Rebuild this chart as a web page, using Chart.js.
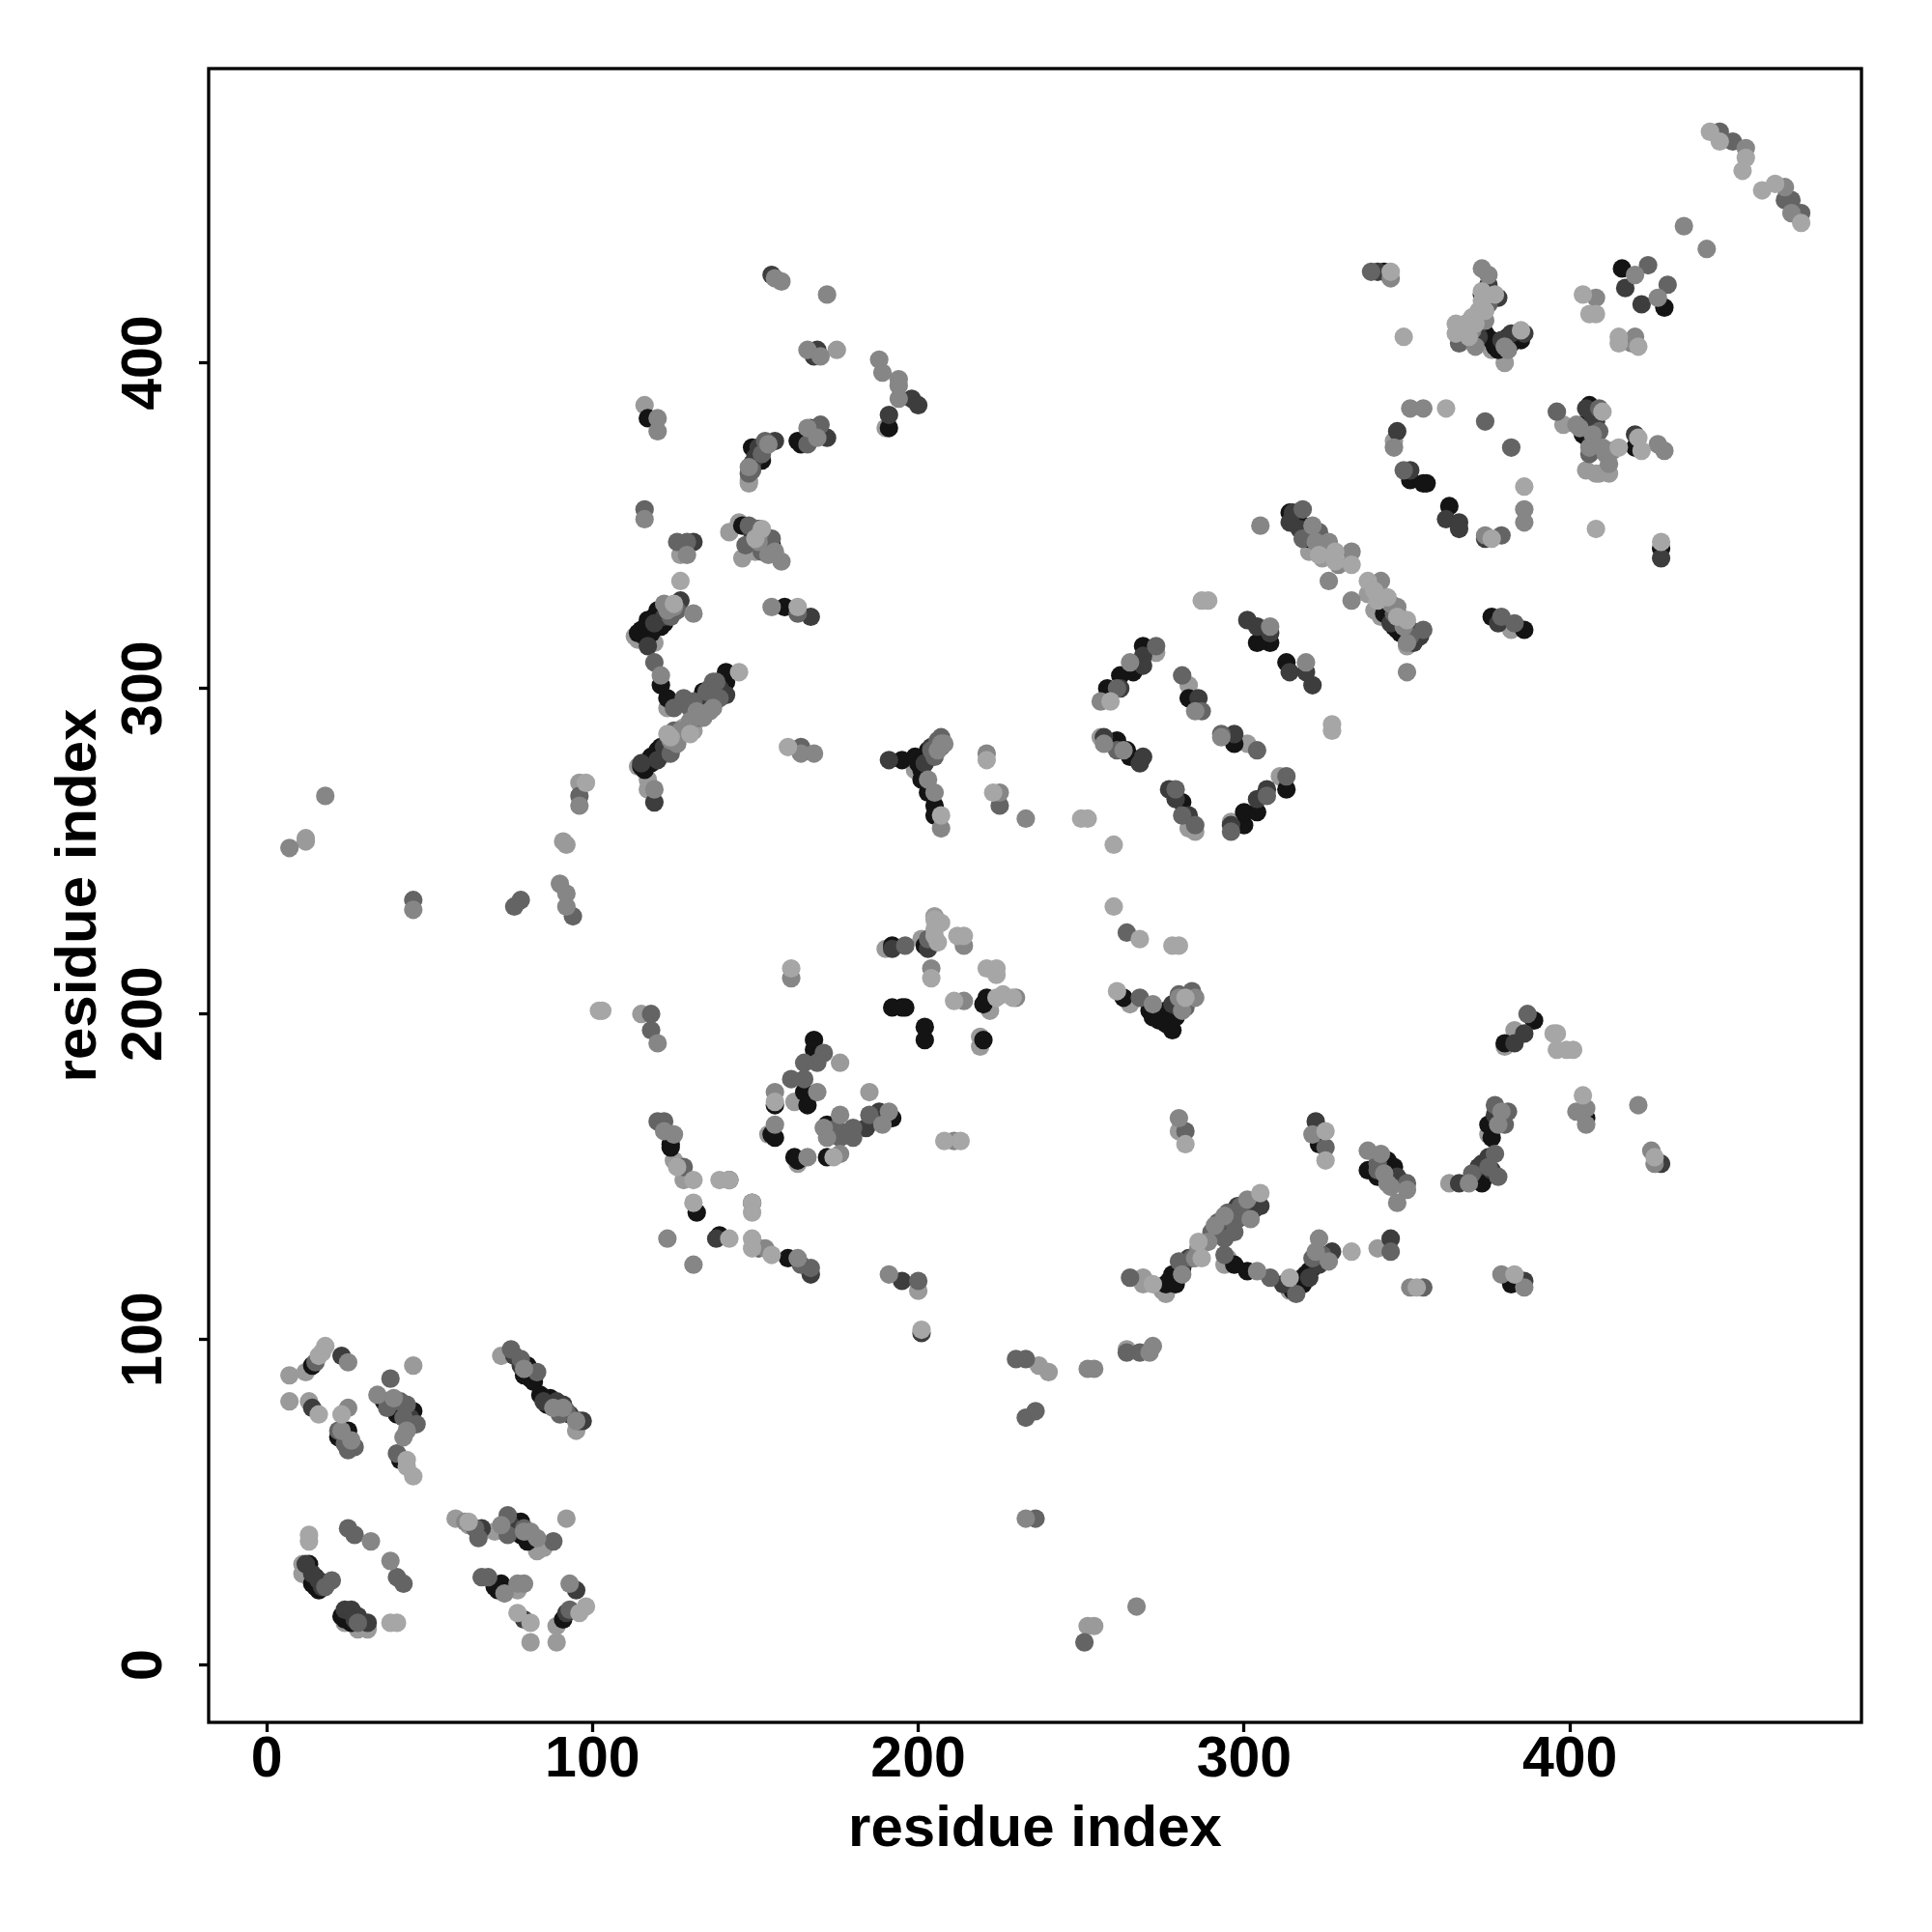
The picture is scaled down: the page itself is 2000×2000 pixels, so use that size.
<!DOCTYPE html>
<html>
<head>
<meta charset="utf-8">
<style>html,body{margin:0;padding:0;background:#fff}canvas{display:block}</style>
<script src="https://cdn.jsdelivr.net/npm/chart.js@4/dist/chart.umd.min.js"></script>
</head>
<body>
<div style="width:2000px;height:2000px"><canvas id="c" width="2000" height="2000"></canvas></div>
<script>
const tickValues = [0, 100, 200, 300, 400];
const xTitle = "residue index";
const yTitle = "residue index";

const lightPairs = [[7,89],[12,90],[7,81],[13,81],[11,31],[11,28],[72,95],[95,72],[28,11],[31,11],[70,41],[83,35],[89,12],[89,7],[81,7],[45,92],[92,45],[58,45],[77,23],
[115,200],[154,163],[163,154],[162,173],[185,176],[176,185],[125,155],[128,149],[190,220],[219,193],[219,190],[222,201],[201,223],[205,230],
[116,387],[148,363],[190,380],[127,341],[142,348],[145,351],[114,276],[117,272],[117,269],[113,316],[119,314],[123,294],[199,275],
[256,285],[283,301],[296,259],[273,311],[283,257],[285,256],[311,273],[301,283],[340,324],[338,329],
[382,318],[265,203],[264,97],[269,119],[269,117],[276,114],[294,123],[363,148],[375,163],[383,195],[380,190],[341,128],[280,164],[398,381],[346,376],[237,92],[240,90],[12,254],[12,253],[200,115],
[91,253],[92,252],[96,271],[252,12],[254,12],[175,404],[13,30],[12,29],[62,43],[24,13],[85,36],[115,277],[114,315],[123,280],[146,340],[150,342],[148,364],[342,322],[320,342],[324,340],[350,313],[275,115],[295,125],[314,115],[345,147],[405,367],[409,366],[376,404],[380,400],[128,288],[131,287],[408,366],[412,366]];

const blackPairs = [[14,92],[25,72],[38,80],[40,77],[45,78],[41,63],[81,90],[81,88],[79,89],[87,82],[86,80],[88,80],[13,31],[14,25],[16,23],[15,27],[23,15],[24,14],[26,13],[70,24],[72,25],[71,23],[91,14],[76,44],[78,44],[78,40],[80,38],
[168,192],[168,189],[165,176],[156,172],[166,172],[188,168],[192,168],[156,162],[155,163],[172,166],[162,156],[163,155],[172,156],[124,160],[132,139],[139,132],[160,125],[192,221],[202,221],[192,202],[195,202],[196,202],[202,196],[202,192],[220,203],[221,205],[220,192],
[117,383],[149,374],[163,376],[164,375],[191,380],[146,350],[153,346],[155,344],[159,325],[119,322],[118,320],[115,318],[116,316],[120,324],[117,321],[114,317],[121,301],[123,297],[137,298],[141,302],[141,305],[140,300],[117,277],[118,279],[120,281],[119,278],[116,275],[121,282],[195,278],[202,279],[200,277],[201,275],[203,281],[201,272],[203,268],[205,264],[205,261],
[269,313],[266,305],[262,304],[258,300],[283,297],[264,281],[265,279],[261,284],[281,265],[297,283],[300,258],[300,262],[304,262],[313,269],[308,314],[304,314],[313,308],
[318,350],[320,346],[319,348],[316,352],[314,354],[343,323],[346,319],[345,321],[348,317],[347,318],
[386,318],[376,322],[416,429],[429,417],[373,421],[374,409],[377,405],[381,408],[385,407],[378,404],[407,385],[406,387],[404,378],[408,374],[406,380],[420,374],[351,364],[355,363],[356,363],[363,356],[343,428],[428,343],
[263,205],[271,201],[275,200],[272,199],[278,195],[274,198],[276,197],[323,160],[344,155],[346,153],[345,152],[374,150],[373,148],[375,166],[376,162],[301,141],[297,123],[301,121],[280,121],[278,120],[276,117],[277,118],[279,119],[316,116],[318,119],[320,121],[317,117],[319,120],[315,115],[389,198],[380,191],[382,117],[405,168],
[124,159],[122,320],[121,319],[118,317],[122,323],[115,276],[118,277],[122,281],[152,370],[150,373],[152,345],[150,347],[80,92],[82,87],[84,83],[40,79],[36,81],[22,70],[24,70],[15,24],[17,25],[25,16],[281,122],[279,117],[318,117],[321,122],[346,150],[344,152],[199,279],[201,277],[204,279],[278,200],[276,201],[279,199],[404,381],[406,376],[382,406],[376,407],[374,420],[134,299],[136,296],[338,152],[341,150]];

const darkPairs = [[23,95],[14,79],[76,95],[78,92],[89,81],[91,80],[96,75],[97,75],[66,42],[14,28],[16,26],[24,17],[26,17],[28,15],[31,13],[79,14],[92,16],[95,23],
[188,170],[184,165],[149,142],[142,149],[138,131],[167,120],[195,118],[201,102],[203,220],[192,220],
[150,371],[156,376],[167,380],[172,377],[191,384],[198,389],[200,387],[149,348],[167,322],[127,327],[122,322],[117,313],[131,345],[135,297],[139,300],[141,298],[122,282],[115,277],[119,265],[191,278],
[262,300],[269,310],[269,307],[268,277],[269,279],[257,285],[286,297],[297,286],[277,269],[279,266],[283,261],[304,266],[307,269],[301,321],[304,319],[308,317],[319,305],[314,305],[321,301],[296,258],
[314,351],[315,354],[351,318],[352,314],[354,316],[378,320],[422,418],[417,423],[378,420],[382,409],[386,409],[341,428],[351,367],[362,352],[366,351],[366,349],[374,346],[347,379],[428,340],[407,382],[408,382],[420,378],
[278,203],[322,167],[347,150],[366,148],[372,153],[375,156],[377,169],[305,141],[298,141],[294,134],[312,117],[322,124],[327,127],[345,131],[383,191],[386,194],[386,118],[428,154],
[155,427],[169,404],[168,402],[119,320],[123,325],[120,278],[123,283],[151,374],[149,369],[151,349],[153,343],[40,81],[44,76],[85,81],[93,77],[79,91],[12,31],[17,24],[27,14],[75,43],[80,41],[345,149],[283,125],[281,123],[320,119],[323,123],[298,137],[303,140],[204,282],[202,277],[280,202],[282,204],[405,386],[407,376],[379,407],[372,408],[375,424],[317,349],[345,320],[348,320],[137,296],[134,293],[341,154],[373,154],[376,152]];

const midPairs = [[15,93],[38,88],[41,81],[43,80],[46,74],[22,72],[27,67],[25,66],[40,65],[75,97],[78,94],[92,78],[66,27],[68,27],[25,42],[27,40],[40,27],[42,25],[18,24],[64,42],[65,39],[74,46],[79,42],[88,38],[93,17],[28,13],
[171,188],[169,185],[165,185],[161,180],[165,180],[185,169],[176,162],[180,165],[180,162],[175,165],[120,167],[122,167],[128,153],[151,128],[164,123],[167,122],[118,200],[118,195],[200,118],[196,221],[203,223],
[148,366],[153,376],[166,375],[170,381],[152,372],[116,355],[126,345],[129,345],[148,350],[152,342],[163,323],[119,308],[125,294],[130,294],[137,302],[125,287],[204,281],[207,285],[225,264],[164,282],
[273,313],[261,300],[281,304],[287,293],[261,281],[293,286],[304,281],[281,261],[285,258],[279,269],[313,273],[307,267],[296,256],
[318,355],[323,348],[346,323],[355,318],[379,322],[383,320],[424,430],[430,424],[339,428],[382,374],[374,382],[396,385],[409,386],[379,347],[349,367],
[268,205],[284,207],[325,159],[341,154],[350,148],[370,151],[375,153],[377,172],[380,166],[381,170],[282,164],[298,138],[297,136],[294,131],[294,126],[308,119],[265,119],[316,114],[345,127],[355,116],[387,200],
[446,471],[450,468],[466,450],[468,450],[471,446],[233,76],[236,78],[264,96],[268,96],[230,94],[233,94],[96,267],[94,230],[45,235],[78,235],[76,233],[264,225],[251,7],[236,45],
[341,152],[124,322],[126,324],[124,280],[126,285],[149,367],[155,346],[147,344],[150,345],[37,79],[42,76],[83,90],[90,77],[24,68],[20,26],[74,40],[128,297],[136,300],[139,297],[133,291],[131,296],[205,279],[206,284],[207,282],[280,124],[284,125],[321,125],[324,126],[299,141],[297,133],[318,346],[322,346],[351,316],[347,323],[406,372],[409,379],[366,406],[375,418],[280,206],[282,202],[378,150],[377,157],[292,136],[295,139],[290,133],[135,299],[138,302]];

const grayPairs = [[25,93],[25,79],[26,69],[34,83],[43,72],[42,70],[72,43],[81,41],[83,39],[32,38],[38,32],[73,22],[77,25],[79,25],[93,25],[61,44],[95,75],[79,91],[91,79],
[120,191],[169,176],[156,176],[191,170],[189,166],[176,169],[171,165],[172,162],[166,156],[176,157],[156,166],[122,164],[125,163],[163,125],[153,128],[131,123],[123,131],[191,120],[204,214],[214,204],[230,205],[214,221],[211,161],[161,211],
[154,375],[166,380],[169,377],[194,389],[120,383],[120,379],[116,352],[129,341],[151,345],[154,341],[158,339],[155,325],[123,324],[131,323],[121,304],[130,290],[134,291],[137,294],[136,293],[124,284],[119,269],[164,280],[168,280],[207,283],[203,272],[205,268],[207,257],[221,280],[225,268],[233,260],
[256,296],[257,283],[263,281],[285,293],[293,285],[265,308],[305,350],[308,319],[319,308],[321,350],[326,345],[333,342],[333,327],[326,333],[342,333],[345,326],[350,305],[350,314],
[373,429],[375,427],[408,420],[420,427],[427,420],[420,408],[419,406],[345,426],[381,404],[406,374],[411,372],[412,369],[407,378],[402,381],[427,375],[429,373],[351,386],[355,386],[386,355],[386,351],[374,347],[346,374],[435,442],[442,435],[454,466],[466,454],[468,446],
[280,205],[272,203],[280,168],[321,163],[338,158],[343,151],[345,147],[350,146],[347,142],[369,148],[405,171],[402,170],[405,166],[421,172],[425,158],[426,154],[294,138],[302,137],[291,135],[289,130],[285,125],[304,121],[323,131],[379,120],[351,116],[386,116],
[7,251],[18,267],[45,232],[90,240],[92,237],[92,233],[96,264],[267,18],[233,45],[252,91],[254,91],[271,96],[272,98],[188,401],[189,397],[194,395],[194,393],
[156,426],[158,425],[172,421],[166,404],[170,402],[125,325],[122,326],[126,283],[127,287],[148,368],[151,347],[156,342],[39,82],[88,79],[23,72],[79,41],[132,293],[281,120],[286,128],[322,127],[326,124],[301,143],[322,345],[329,338],[347,325],[349,319],[403,380],[410,374],[413,373],[370,410],[371,405],[380,405],[374,413],[281,201],[285,205],[206,281],[208,283],[378,166],[379,170],[342,157],[344,148]];

const palePairs = [[16,95],[17,96],[18,98],[16,77],[23,77],[43,63],[43,61],[45,58],[13,40],[13,38],[38,13],[40,13],[62,44],[77,16],[81,13],[96,16],[98,18],
[102,201],[103,201],[161,214],[156,173],[174,156],[126,153],[131,149],[139,149],[142,149],[149,142],[149,139],[131,142],[142,131],[149,131],[149,128],[155,126],[201,103],[205,226],[205,229],[212,224],[214,224],[204,211],[221,214],[224,214],[224,212],[211,204],[224,205],[226,206],[229,205],[208,161],[213,161],
[127,333],[125,326],[150,346],[163,325],[130,286],[160,282],[123,286],[145,305],[207,261],[221,278],[223,268],[250,260],
[260,252],[252,260],[260,233],[268,223],[278,221],[280,221],[287,327],[289,327],[259,296],[327,289],[327,287],
[323,341],[328,342],[328,339],[333,338],[338,333],[341,327],[350,321],
[443,471],[446,468],[454,463],[453,459],[459,453],[463,455],[471,443],
[404,421],[406,415],[408,415],[415,408],[415,406],[421,405],[373,422],[374,416],[372,416],[365,412],[365,409],[371,412],[377,421],[385,410],[349,408],[345,428],[362,386],[386,362],[376,346],[408,349],[428,345],
[415,374],[421,377],[422,373],[410,385],
[261,207],[282,205],[282,160],[325,164],[325,155],[333,127],[305,145],[286,130],[287,125],[272,117],[314,119],[383,120],[353,116],
[395,194],[396,194],[396,189],[399,189],[401,189],[404,175],[426,156],
[98,271],[152,349],[124,285],[205,224],[207,228],[206,222],[368,412],[369,408],[370,414],[373,419],[340,330],[344,328],[347,322]];

const layers = [
  {label: "light", pairs: lightPairs, color: "#9a9a9a"},
  {label: "black", pairs: blackPairs, color: "#141414"},
  {label: "dark",  pairs: darkPairs,  color: "#3d3d3d"},
  {label: "mid",   pairs: midPairs,   color: "#646464"},
  {label: "gray",  pairs: grayPairs,  color: "#868686"},
  {label: "pale",  pairs: palePairs,  color: "#a6a6a6"}
];

const family = "'Liberation Sans', Arial, sans-serif";
const tickFont = {family, size: 59, weight: "bold"};
const titleFont = {family, size: 60, weight: "bold"};

const framePlugin = {
  id: "frame",
  afterDraw(chart) {
    const a = chart.chartArea, g = chart.ctx;
    g.save();
    g.strokeStyle = "#000";
    g.lineWidth = 3.3;
    g.strokeRect(a.left, a.top, a.right - a.left, a.bottom - a.top);
    g.restore();
  }
};

function fixedTicks(scale) { scale.ticks = tickValues.map(v => ({value: v})); }

new Chart(document.getElementById("c"), {
  type: "scatter",
  data: {
    datasets: layers.map((l, i) => ({
      label: l.label,
      data: l.pairs.map(p => ({x: p[0], y: p[1]})),
      backgroundColor: l.color,
      borderWidth: 0,
      pointRadius: 9.6,
      pointHoverRadius: 9.6,
      order: layers.length - i
    }))
  },
  options: {
    responsive: false,
    animation: false,
    layout: {padding: {top: 71, right: 73, bottom: 0, left: 0}},
    plugins: {legend: {display: false}, tooltip: {enabled: false}},
    scales: {
      x: {
        type: "linear", min: -17.8, max: 489.5,
        afterBuildTicks: fixedTicks,
        afterFit(s) { s.height = 217; },
        border: {display: false},
        grid: {drawOnChartArea: false, drawTicks: true, tickLength: 10, tickWidth: 3.3, tickColor: "#000"},
        ticks: {color: "#000", font: tickFont, padding: -6, maxRotation: 0, minRotation: 0, autoSkip: false},
        title: {display: true, text: xTitle, color: "#000", font: titleFont, padding: {top: 0, bottom: 70}}
      },
      y: {
        type: "linear", min: -17.6, max: 490.4,
        afterBuildTicks: fixedTicks,
        afterFit(s) { s.width = 216; },
        border: {display: false},
        grid: {drawOnChartArea: false, drawTicks: true, tickLength: 10, tickWidth: 3.3, tickColor: "#000"},
        ticks: {color: "#000", font: tickFont, padding: 6, minRotation: 90, maxRotation: 90, crossAlign: "center", autoSkip: false},
        title: {display: true, text: yTitle, color: "#000", font: titleFont, padding: {top: 46, bottom: 0}}
      }
    }
  },
  plugins: [framePlugin]
});
</script>
</body>
</html>
